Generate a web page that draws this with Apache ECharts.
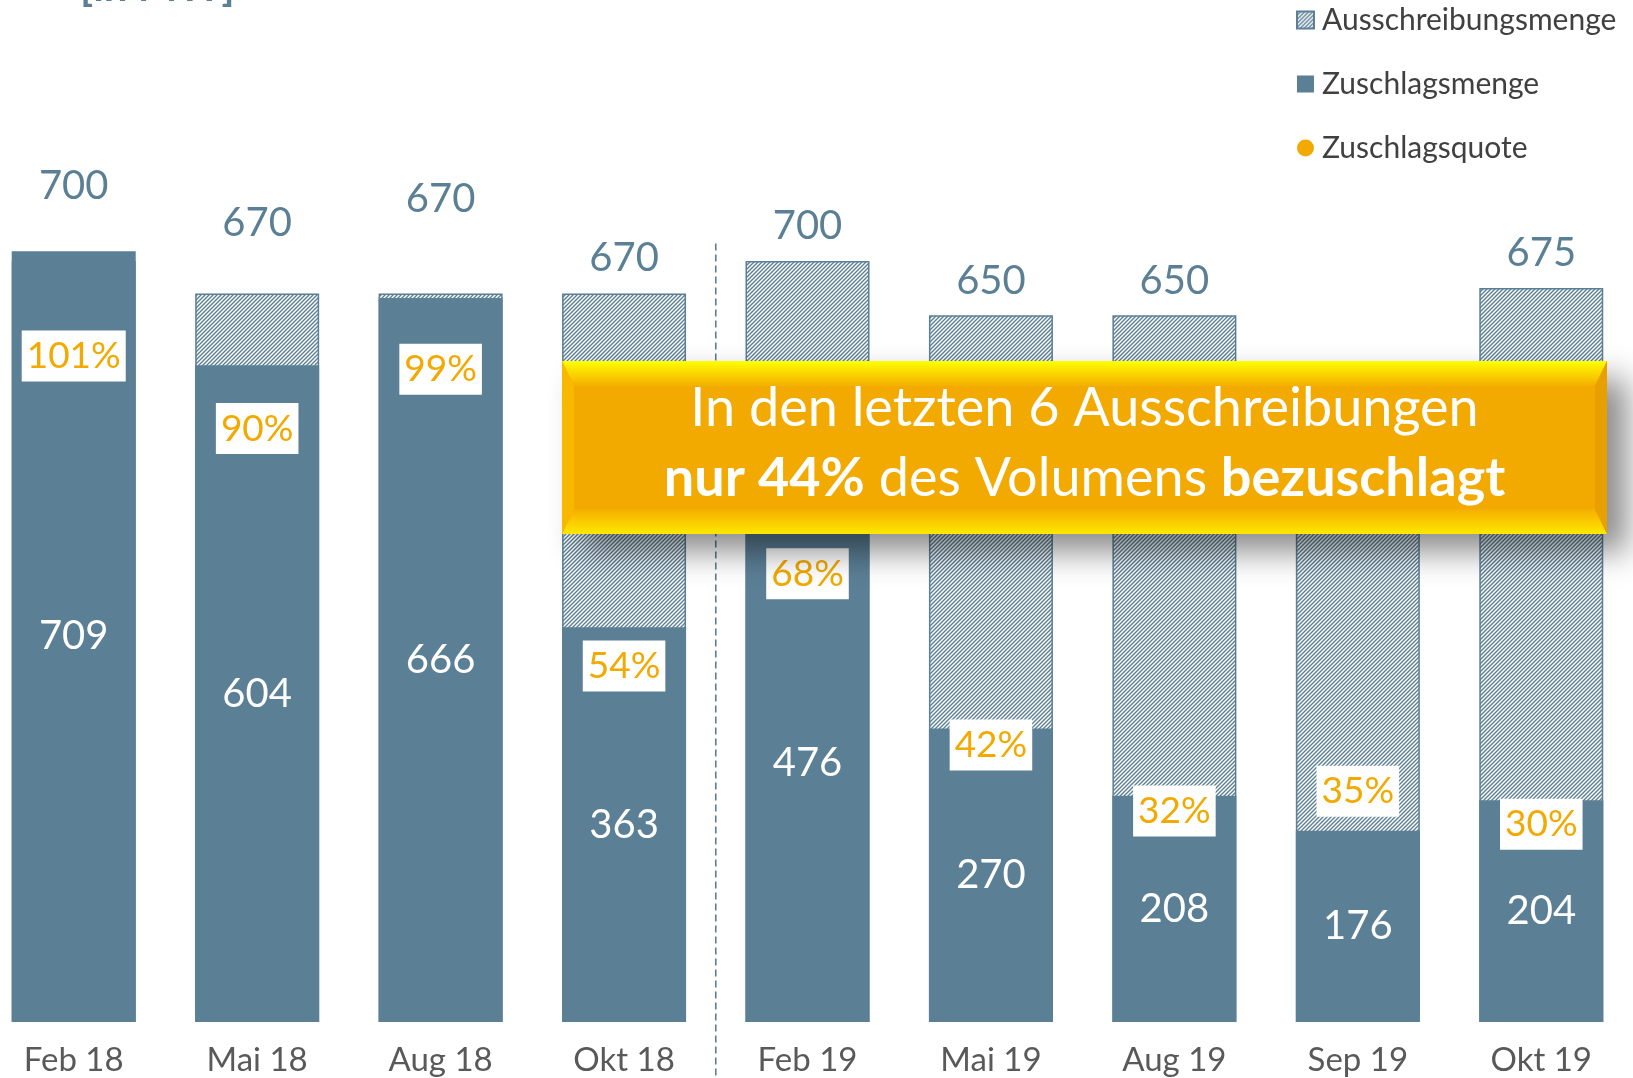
<!DOCTYPE html>
<html>
<head>
<meta charset="utf-8">
<script src="https://cdn.jsdelivr.net/npm/echarts@6/dist/echarts.min.js"></script>
<style>
  html, body { margin: 0; padding: 0; background: #fff; }
  #chart { width: 1633px; height: 1078px; }
</style>
</head>
<body>
<div id="chart"></div>
<script>
// Daten
var categories = ['Feb 18', 'Mai 18', 'Aug 18', 'Okt 18', 'Feb 19', 'Mai 19', 'Aug 19', 'Sep 19', 'Okt 19']
var tenderVolume = [700, 670, 670, 670, 700, 650, 650, 500, 675]
var awardedVolume = [709, 604, 666, 363, 476, 270, 208, 176, 204]
var awardRate = [101, 90, 99, 54, 68, 42, 32, 35, 30]

var steel = '#5B7F95'
var orange = '#F2A900'
var font = 'Lato'

// Abstand der Mengen-Labels über dem Balken (Mitte des Textes), wie im Original verschoben
var tenderLabelRaise = [75, 70, 94, 35, 35, 34, 34, 35, 35]

function hatchPattern() {
  var c = document.createElement('canvas')
  c.width = 4
  c.height = 4
  var ctx = c.getContext('2d')
  ctx.fillStyle = '#fff'
  ctx.fillRect(0, 0, 4, 4)
  ctx.strokeStyle = steel
  ctx.lineWidth = 1.4
  ctx.beginPath()
  ctx.moveTo(0, 4); ctx.lineTo(4, 0)
  ctx.moveTo(-1, 1); ctx.lineTo(1, -1)
  ctx.moveTo(3, 5); ctx.lineTo(5, 3)
  ctx.stroke()
  return { image: c, repeat: 'repeat' }
}

var tenderData = tenderVolume.map(function(v, i) {
  return { value: v, label: { distance: tenderLabelRaise[i] - 20 } }
})

var option = {
  animation: false,
  textStyle: { fontFamily: font },
  legend: {
    orient: 'vertical',
    left: 1291,
    top: 0,
    itemWidth: 17,
    itemHeight: 17,
    itemGap: 34,
    textStyle: { fontSize: 30, color: '#404040', lineHeight: 30, padding: [0, 0, 0, 3], fontFamily: font },
    data: [
      { name: 'Ausschreibungsmenge', icon: 'rect' },
      { name: 'Zuschlagsmenge', icon: 'rect' },
      { name: 'Zuschlagsquote', icon: 'circle' }
    ]
  },
  grid: { left: -18, right: 0, top: 0, bottom: 56, outerBoundsMode: 'none' },
  xAxis: {
    type: 'category',
    data: categories,
    axisLine: { show: false },
    axisTick: { show: false },
    axisLabel: { color: '#595959', fontSize: 33, margin: 22, fontFamily: font }
  },
  yAxis: [
    { type: 'value', min: 0, max: 940, show: false, splitLine: { show: false } },
    { type: 'value', min: 0, max: 155, show: false, splitLine: { show: false } }
  ],
  series: [
    {
      name: 'Ausschreibungsmenge',
      type: 'bar',
      data: tenderData,
      barWidth: 124,
      itemStyle: { color: hatchPattern(), borderColor: steel, borderWidth: 1.5 },
      label: {
        show: true,
        position: 'top',
        color: steel,
        fontSize: 40,
        lineHeight: 40,
        fontFamily: font
      }
    },
    {
      name: 'Zuschlagsmenge',
      type: 'bar',
      data: awardedVolume,
      barWidth: 124,
      barGap: '-100%',
      itemStyle: { color: steel },
      label: {
        show: true,
        position: 'inside',
        color: '#fff',
        fontSize: 40,
        fontFamily: font
      }
    },
    {
      name: 'Zuschlagsquote',
      type: 'scatter',
      yAxisIndex: 1,
      data: awardRate,
      symbolSize: 12,
      itemStyle: { color: orange, opacity: 1 },
      label: {
        show: true,
        position: 'inside',
        formatter: '{c}%',
        color: orange,
        fontSize: 37,
        lineHeight: 43,
        backgroundColor: '#fff',
        padding: [4, 5],
        fontFamily: font
      }
    }
  ]
}

var myChart = echarts.init(document.querySelector('#chart'))
myChart.setOption(option)

// Trennlinie zwischen 2018 und 2019, Banner und Einheit
var xa = myChart.convertToPixel({ xAxisIndex: 0 }, 'Okt 18')
var xb = myChart.convertToPixel({ xAxisIndex: 0 }, 'Feb 19')
var divX = (xa + xb) / 2
var divTop = myChart.convertToPixel({ yAxisIndex: 0 }, 716)

var bx0 = 562, by0 = 361, bx1 = 1607, by1 = 534
var bev = 12, bevT = 25

myChart.setOption({
  graphic: [
    {
      type: 'text',
      left: 80,
      top: -34,
      style: { text: '[in MW]', fontSize: 42, fontWeight: 'bold', fill: steel, fontFamily: font }
    },
    {
      type: 'line',
      z: 50,
      shape: { x1: divX, y1: divTop, x2: divX, y2: 1078 },
      style: { stroke: steel, lineWidth: 1.6, lineDash: [7, 4] }
    },
    {
      type: 'rect',
      z: 100,
      shape: { x: bx0, y: by0, width: bx1 - bx0, height: by1 - by0 },
      style: {
        fill: orange,
        shadowBlur: 30,
        shadowOffsetX: 20,
        shadowOffsetY: 18,
        shadowColor: 'rgba(0,0,0,0.45)'
      }
    },
    {
      type: 'polygon',
      z: 101,
      shape: { points: [[bx0, by0], [bx1, by0], [bx1 - bev, by0 + bevT], [bx0 + bev, by0 + bevT]] },
      style: {
        fill: new echarts.graphic.LinearGradient(0, 0, 0, 1, [
          { offset: 0, color: '#FFFF00' },
          { offset: 1, color: '#F5AE00' }
        ])
      }
    },
    {
      type: 'polygon',
      z: 101,
      shape: { points: [[bx0, by1], [bx1, by1], [bx1 - bev, by1 - bevT], [bx0 + bev, by1 - bevT]] },
      style: {
        fill: new echarts.graphic.LinearGradient(0, 0, 0, 1, [
          { offset: 0, color: '#F5AE00' },
          { offset: 1, color: '#FFE800' }
        ])
      }
    },
    {
      type: 'polygon',
      z: 101,
      shape: { points: [[bx0, by0], [bx0 + bev, by0 + bevT], [bx0 + bev, by1 - bevT], [bx0, by1]] },
      style: { fill: '#F8B800' }
    },
    {
      type: 'polygon',
      z: 101,
      shape: { points: [[bx1, by0], [bx1 - bev, by0 + bevT], [bx1 - bev, by1 - bevT], [bx1, by1]] },
      style: { fill: '#E89F00' }
    },
    {
      type: 'text',
      z: 102,
      x: (bx0 + bx1) / 2,
      y: (by0 + by1) / 2 - 4,
      style: {
        text: '{n|In den letzten 6 Ausschreibungen}\n{b|nur 44%}{n| des Volumens }{b|bezuschlagt}',
        align: 'center',
        verticalAlign: 'middle',
        rich: {
          n: { fontSize: 54, lineHeight: 70, fill: '#fff', fontFamily: font },
          b: { fontSize: 54, lineHeight: 70, fill: '#fff', fontWeight: 'bold', fontFamily: font }
        }
      }
    }
  ]
})

//让图表跟随屏幕自适应
window.addEventListener('resize', function() {
  myChart.resize()
})
</script>
</body>
</html>
